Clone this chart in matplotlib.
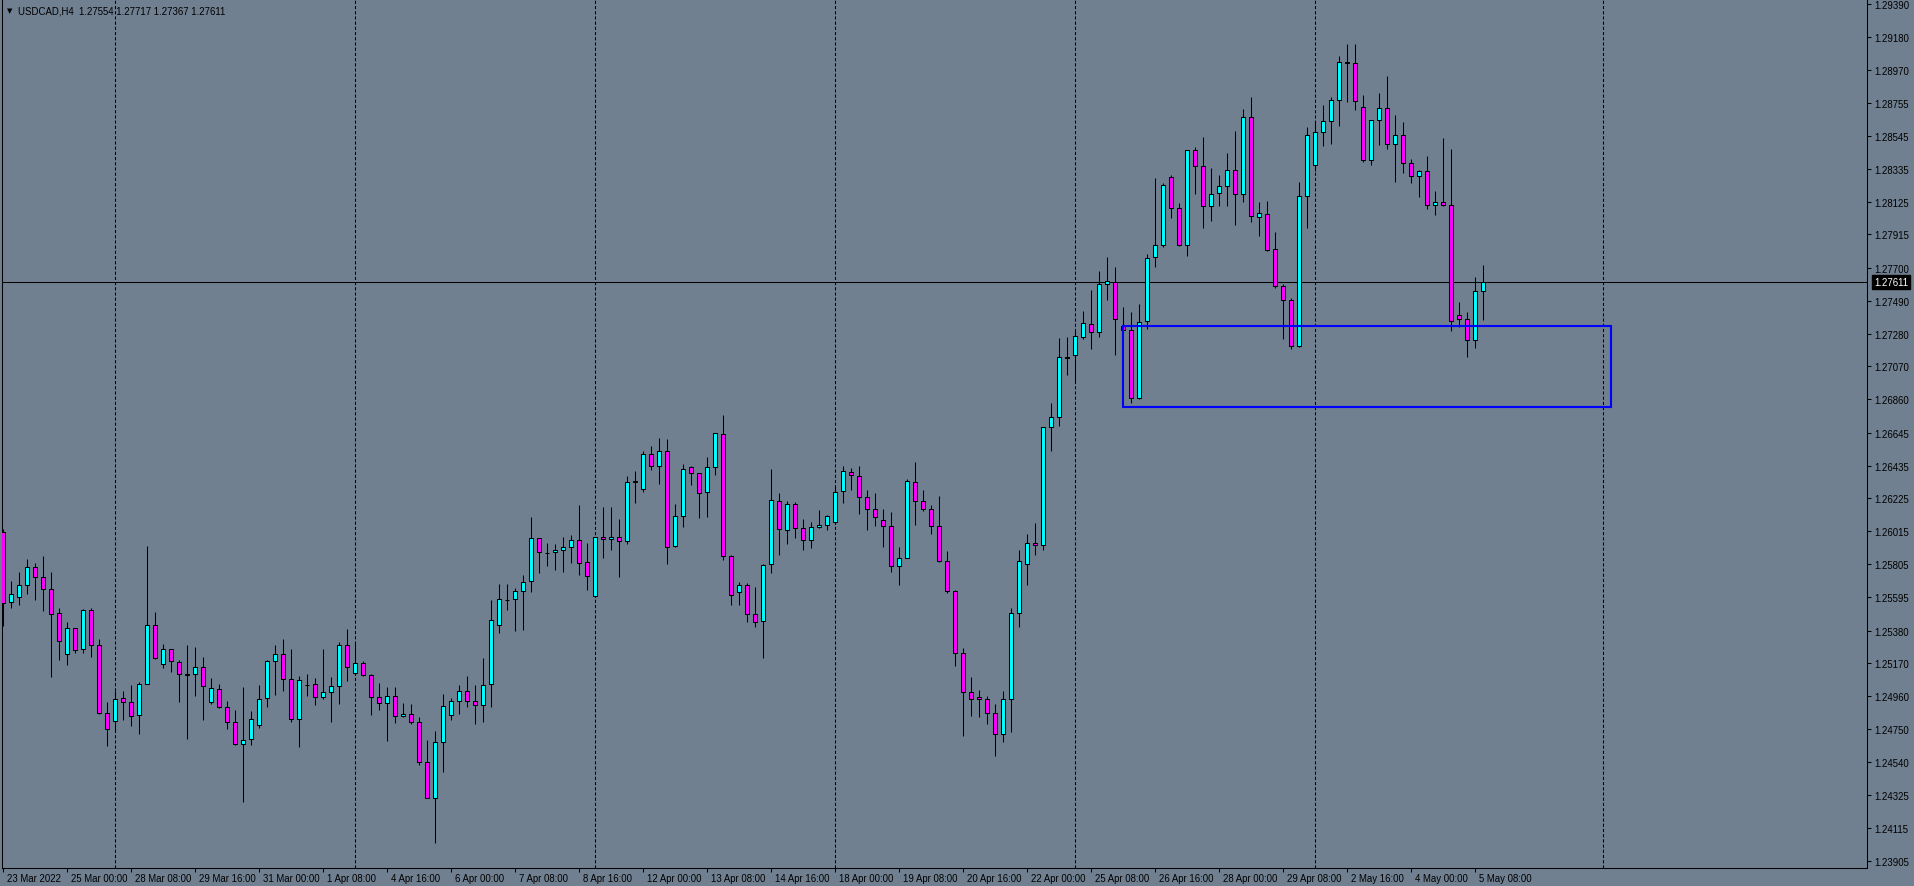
import numpy as np
import matplotlib
matplotlib.use("Agg")
import matplotlib.pyplot as plt
from matplotlib.patches import Rectangle
from matplotlib.transforms import ScaledTranslation

# USDCAD H4 bars (bar 0 = 23 Mar 2022 16:00)
opens = [
    1.26009, 1.25561, 1.25593, 1.25670, 1.25785, 1.25721, 1.25648, 1.25490, 1.25228, 1.25394,
    1.25260, 1.25510, 1.25286, 1.24850, 1.24799, 1.24947, 1.24921, 1.24838, 1.25036, 1.25414,
    1.25164, 1.25260, 1.25177, 1.25100, 1.25100, 1.25145, 1.24921, 1.25004, 1.24889, 1.24793,
    1.24652, 1.24684, 1.24774, 1.24947, 1.25183, 1.25228, 1.25068, 1.24812, 1.25032, 1.25036,
    1.24953, 1.24985, 1.25023, 1.25286, 1.25107, 1.25171, 1.25094, 1.24953, 1.24915, 1.24959,
    1.24831, 1.24844, 1.24793, 1.24537, 1.24307, 1.24665, 1.24838, 1.24927, 1.24991, 1.24927,
    1.24902, 1.25036, 1.25414, 1.25578, 1.25580, 1.25631, 1.25695, 1.25971, 1.25876, 1.25881,
    1.25894, 1.25913, 1.25958, 1.25817, 1.25599, 1.25977, 1.25964, 1.25977, 1.25951, 1.26332,
    1.26284, 1.26508, 1.26431, 1.26527, 1.25919, 1.26111, 1.26425, 1.26387, 1.26265, 1.26425,
    1.26636, 1.25855, 1.25625, 1.25670, 1.25484, 1.25439, 1.25804, 1.26207, 1.26022, 1.26188,
    1.26035, 1.25958, 1.26041, 1.26054, 1.26073, 1.26271, 1.26393, 1.26367, 1.26233, 1.26156,
    1.26086, 1.26047, 1.25791, 1.25843, 1.26329, 1.26207, 1.26156, 1.26047, 1.25823, 1.25631,
    1.25234, 1.24985, 1.24953, 1.24940, 1.24850, 1.24716, 1.24940, 1.25490, 1.25804, 1.25939,
    1.25926, 1.26681, 1.26745, 1.27129, 1.27142, 1.27257, 1.27340, 1.27289, 1.27596, 1.27609,
    1.27327, 1.27302, 1.26867, 1.27359, 1.27769, 1.27846, 1.28281, 1.28083, 1.27846, 1.28454,
    1.28351, 1.28095, 1.28179, 1.28223, 1.28326, 1.28172, 1.28665, 1.28025, 1.28044, 1.27820,
    1.27583, 1.27494, 1.27199, 1.28159, 1.28358, 1.28569, 1.28639, 1.28778, 1.29016, 1.29011,
    1.28729, 1.28390, 1.28646, 1.28723, 1.28492, 1.28550, 1.28371, 1.28287, 1.28319, 1.28102,
    1.28121, 1.28102, 1.27398, 1.27372, 1.27238, 1.27554,
]
highs = [
    1.26030, 1.25697, 1.25755, 1.25838, 1.25812, 1.25857, 1.25755, 1.25524, 1.25435, 1.25396,
    1.25516, 1.25522, 1.25324, 1.24921, 1.24991, 1.24991, 1.25030, 1.25049, 1.25919, 1.25497,
    1.25292, 1.25262, 1.25190, 1.25286, 1.25273, 1.25209, 1.25075, 1.25036, 1.24927, 1.24870,
    1.25017, 1.24863, 1.25030, 1.25190, 1.25286, 1.25324, 1.25260, 1.25087, 1.25100, 1.25075,
    1.25260, 1.25081, 1.25305, 1.25388, 1.25299, 1.25183, 1.25100, 1.25043, 1.25017, 1.25017,
    1.24915, 1.24908, 1.24825, 1.24678, 1.24735, 1.24972, 1.24947, 1.25030, 1.25087, 1.25030,
    1.25203, 1.25574, 1.25676, 1.25676, 1.25651, 1.25734, 1.26105, 1.25973, 1.25939, 1.25932,
    1.25977, 1.25990, 1.26182, 1.25939, 1.25979, 1.26169, 1.26169, 1.26092, 1.26367, 1.26399,
    1.26527, 1.26559, 1.26610, 1.26604, 1.26188, 1.26444, 1.26431, 1.26389, 1.26489, 1.26645,
    1.26758, 1.25862, 1.25689, 1.25682, 1.25657, 1.25804, 1.26414, 1.26259, 1.26207, 1.26201,
    1.26092, 1.26073, 1.26150, 1.26118, 1.26297, 1.26431, 1.26419, 1.26431, 1.26278, 1.26259,
    1.26156, 1.26137, 1.25913, 1.26348, 1.26457, 1.26278, 1.26182, 1.26239, 1.25887, 1.25638,
    1.25267, 1.25081, 1.24998, 1.24959, 1.24908, 1.24991, 1.25522, 1.25894, 1.25996, 1.26067,
    1.26683, 1.26835, 1.27250, 1.27257, 1.27295, 1.27423, 1.27558, 1.27679, 1.27769, 1.27705,
    1.27449, 1.27417, 1.27468, 1.27788, 1.28275, 1.28243, 1.28294, 1.28115, 1.28456, 1.28473,
    1.28537, 1.28339, 1.28294, 1.28435, 1.28575, 1.28718, 1.28795, 1.28121, 1.28127, 1.27929,
    1.27596, 1.27507, 1.28249, 1.28601, 1.28639, 1.28742, 1.28793, 1.29055, 1.29132, 1.29132,
    1.28806, 1.28648, 1.28819, 1.28927, 1.28678, 1.28633, 1.28396, 1.28326, 1.28415, 1.28191,
    1.28531, 1.28460, 1.27481, 1.27417, 1.27641, 1.27717,
]
lows = [
    1.25411, 1.25526, 1.25544, 1.25614, 1.25578, 1.25507, 1.25085, 1.25192, 1.25162, 1.25234,
    1.25234, 1.25209, 1.24844, 1.24643, 1.24746, 1.24810, 1.24771, 1.24720, 1.25036, 1.25196,
    1.25139, 1.25113, 1.24925, 1.24684, 1.24959, 1.24806, 1.24908, 1.24883, 1.24747, 1.24650,
    1.24285, 1.24650, 1.24755, 1.24889, 1.24970, 1.24991, 1.24793, 1.24633, 1.24963, 1.24906,
    1.24940, 1.24793, 1.24908, 1.25055, 1.25094, 1.25087, 1.24838, 1.24870, 1.24671, 1.24787,
    1.24829, 1.24780, 1.24518, 1.24305, 1.24018, 1.24473, 1.24806, 1.24844, 1.24889, 1.24780,
    1.24793, 1.24889, 1.25363, 1.25510, 1.25375, 1.25382, 1.25625, 1.25747, 1.25795, 1.25770,
    1.25753, 1.25811, 1.25734, 1.25638, 1.25597, 1.25843, 1.25894, 1.25721, 1.25932, 1.26195,
    1.26265, 1.26406, 1.26316, 1.25804, 1.25913, 1.26041, 1.26310, 1.26099, 1.26105, 1.26374,
    1.25830, 1.25542, 1.25542, 1.25433, 1.25401, 1.25203, 1.25747, 1.25862, 1.25932, 1.25971,
    1.25894, 1.25907, 1.26039, 1.26022, 1.26060, 1.26195, 1.26278, 1.26124, 1.26022, 1.26047,
    1.25913, 1.25757, 1.25674, 1.25841, 1.26058, 1.26143, 1.25996, 1.25821, 1.25618, 1.25151,
    1.24707, 1.24831, 1.24825, 1.24780, 1.24579, 1.24669, 1.24733, 1.25401, 1.25670, 1.25862,
    1.25894, 1.26527, 1.26687, 1.27014, 1.26975, 1.27244, 1.27180, 1.27257, 1.27494, 1.27146,
    1.27276, 1.26835, 1.26860, 1.27308, 1.27705, 1.27833, 1.28019, 1.27839, 1.27775, 1.28172,
    1.27955, 1.27999, 1.28095, 1.28095, 1.27974, 1.28121, 1.27993, 1.27903, 1.27812, 1.27571,
    1.27244, 1.27180, 1.27193, 1.27956, 1.28319, 1.28479, 1.28492, 1.28607, 1.28761, 1.28710,
    1.28377, 1.28358, 1.28486, 1.28460, 1.28249, 1.28307, 1.28243, 1.28153, 1.28076, 1.28038,
    1.28100, 1.27295, 1.27321, 1.27129, 1.27186, 1.27367,
]
closes = [
    1.25556, 1.25612, 1.25670, 1.25785, 1.25721, 1.25644, 1.25484, 1.25311, 1.25394, 1.25254,
    1.25510, 1.25286, 1.24850, 1.24748, 1.24940, 1.24921, 1.24831, 1.25036, 1.25414, 1.25203,
    1.25260, 1.25183, 1.25100, 1.25098, 1.25145, 1.25023, 1.25011, 1.24889, 1.24793, 1.24652,
    1.24678, 1.24812, 1.24940, 1.25183, 1.25228, 1.25068, 1.24812, 1.25062, 1.25030, 1.24953,
    1.24985, 1.25023, 1.25286, 1.25145, 1.25171, 1.25094, 1.24953, 1.24915, 1.24959, 1.24831,
    1.24844, 1.24793, 1.24537, 1.24307, 1.24665, 1.24895, 1.24927, 1.24991, 1.24927, 1.24902,
    1.25030, 1.25446, 1.25580, 1.25576, 1.25631, 1.25689, 1.25971, 1.25881, 1.25874, 1.25894,
    1.25913, 1.25958, 1.25811, 1.25727, 1.25977, 1.25964, 1.25977, 1.25951, 1.26329, 1.26334,
    1.26508, 1.26431, 1.26527, 1.25913, 1.26111, 1.26412, 1.26387, 1.26259, 1.26425, 1.26643,
    1.25855, 1.25606, 1.25670, 1.25484, 1.25433, 1.25798, 1.26214, 1.26028, 1.26188, 1.26035,
    1.25958, 1.26041, 1.26054, 1.26111, 1.26265, 1.26399, 1.26374, 1.26233, 1.26156, 1.26105,
    1.26047, 1.25791, 1.25843, 1.26335, 1.26207, 1.26156, 1.26047, 1.25823, 1.25631, 1.25234,
    1.24985, 1.24940, 1.24940, 1.24850, 1.24716, 1.24940, 1.25490, 1.25823, 1.25939, 1.25926,
    1.26681, 1.26745, 1.27129, 1.27127, 1.27263, 1.27346, 1.27289, 1.27596, 1.27615, 1.27372,
    1.27302, 1.26867, 1.27353, 1.27763, 1.27846, 1.28230, 1.28083, 1.27846, 1.28454, 1.28351,
    1.28095, 1.28172, 1.28223, 1.28326, 1.28172, 1.28667, 1.28031, 1.28051, 1.27814, 1.27583,
    1.27494, 1.27199, 1.28159, 1.28550, 1.28569, 1.28639, 1.28774, 1.29017, 1.29014, 1.28767,
    1.28390, 1.28646, 1.28723, 1.28492, 1.28550, 1.28371, 1.28287, 1.28319, 1.28102, 1.28121,
    1.28102, 1.27359, 1.27372, 1.27238, 1.27554, 1.27611,
]

time_labels = [
    "23 Mar 2022", "25 Mar 00:00", "28 Mar 08:00", "29 Mar 16:00", "31 Mar 00:00",
    "1 Apr 08:00", "4 Apr 16:00", "6 Apr 00:00", "7 Apr 08:00", "8 Apr 16:00",
    "12 Apr 00:00", "13 Apr 08:00", "14 Apr 16:00", "18 Apr 00:00", "19 Apr 08:00",
    "20 Apr 16:00", "22 Apr 00:00", "25 Apr 08:00", "26 Apr 16:00", "28 Apr 00:00",
    "29 Apr 08:00", "2 May 16:00", "4 May 00:00", "5 May 08:00",
]
price_ticks = [
    1.29390, 1.29180, 1.28970, 1.28755, 1.28545, 1.28335, 1.28125, 1.27915, 1.27700,
    1.27490, 1.27280, 1.27070, 1.26860, 1.26645, 1.26435, 1.26225, 1.26015, 1.25805,
    1.25595, 1.25380, 1.25170, 1.24960, 1.24750, 1.24540, 1.24325, 1.24115, 1.23905,
]
week_start_bars = [14, 44, 74, 104, 134, 164, 200]

# demand zone drawn on the chart
zone_first_bar, zone_last_bar = 140, 201
zone_low, zone_high = 1.26813, 1.27331

symbol = "USDCAD,H4"
bg = "#708090"
bull_col, bear_col = "#00FFFF", "#FF00FF"
fs = 6.9

plt.rcParams["font.family"] = ["Liberation Sans", "DejaVu Sans"]

W, H, dpi = 1914, 887, 100
fig = plt.figure(figsize=(W / dpi, H / dpi), dpi=dpi, facecolor=bg)
ax = fig.add_axes([2 / W, 18 / H, 1865 / W, 869 / H])
ax.set_facecolor(bg)

o = np.array(opens)
hi = np.array(highs)
lo = np.array(lows)
c = np.array(closes)
x = np.arange(len(o))
colors = np.where(c > o, bull_col, bear_col)

# grid + current price line behind candles
for b in week_start_bars:
    ax.axvline(b, color="black", lw=0.75, ls=(0, (3, 2)), zorder=1)
ax.axhline(c[-1], color="black", lw=0.75, zorder=1)

ax.vlines(x, lo, hi, color="black", lw=0.75, zorder=2)
ax.bar(x, c - o, bottom=o, width=0.5, color=colors, edgecolor="black",
       linewidth=0.75, zorder=3)

ax.add_patch(Rectangle((zone_first_bar, zone_low), zone_last_bar - zone_first_bar,
                       zone_high - zone_low, fill=False, edgecolor="#0000FF",
                       lw=1.5, zorder=4))

ax.set_xlim(-0.1625, 232.96)
ax.set_ylim(1.23860, 1.29422)

# axes / ticks like the terminal
for s in ["left", "bottom", "right"]:
    ax.spines[s].set_color("black")
    ax.spines[s].set_linewidth(0.75)
ax.spines["top"].set_visible(False)

ax.yaxis.tick_right()
ax.set_yticks(price_ticks)
ax.set_yticklabels([f"{p:.5f}" for p in price_ticks])
ax.tick_params(axis="y", direction="out", length=3, width=0.75, pad=2.5,
               labelsize=fs, colors="black")

ax.set_xticks(np.arange(len(time_labels)) * 8)
ax.set_xticklabels(time_labels)
ax.tick_params(axis="x", direction="out", length=3, width=0.75, pad=0.5,
               labelsize=fs, colors="black")
shift = ScaledTranslation(3 / 72, 0, fig.dpi_scale_trans)
for lbl in ax.get_xticklabels():
    lbl.set_ha("left")
    lbl.set_transform(lbl.get_transform() + shift)

# current price tag on the price scale
ax.annotate(f"{c[-1]:.5f}", xy=(1, c[-1]), xycoords=("axes fraction", "data"),
            xytext=(5.2, 0), textcoords="offset points", ha="left", va="center",
            fontsize=fs, color="white", annotation_clip=False,
            bbox=dict(boxstyle="square,pad=0.2", fc="black", ec="black"))

# header
fig.text(7 / W, 1 - 11 / H, "\u25bc", fontsize=5, family="DejaVu Sans",
         va="center", color="black")
fig.text(18 / W, 1 - 11 / H,
         f"{symbol}  {o[-1]:.5f} {hi[-1]:.5f} {lo[-1]:.5f} {c[-1]:.5f}",
         fontsize=fs, va="center", color="black")

fig.savefig("out.png", dpi=dpi, facecolor=bg)
